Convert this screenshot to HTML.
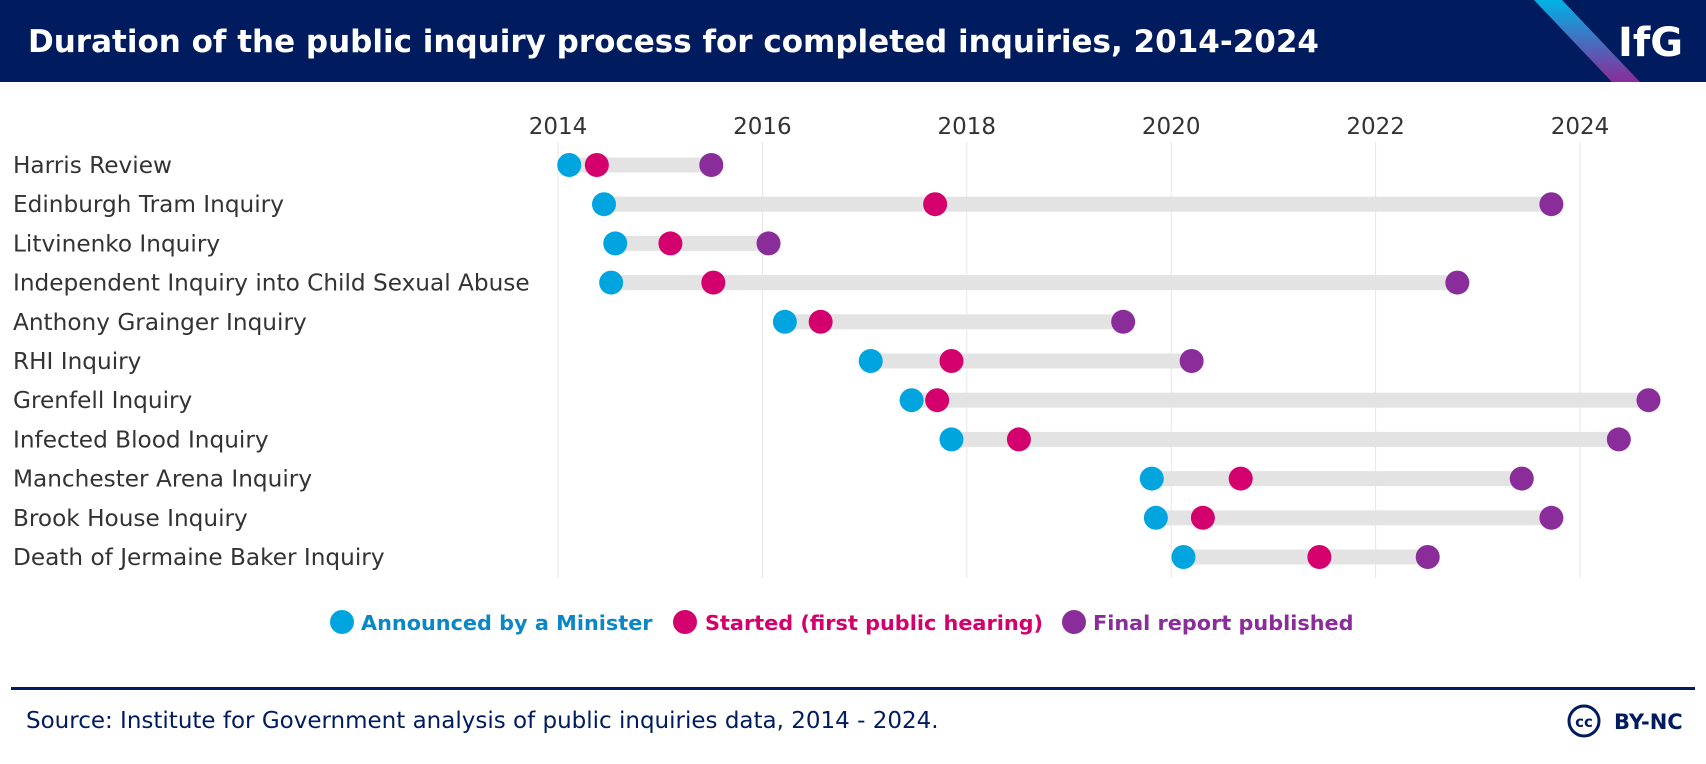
<!DOCTYPE html>
<html><head><meta charset="utf-8"><style>
body{margin:0;width:1706px;height:764px;background:#fff;font-family:"DejaVu Sans","Liberation Sans",sans-serif;overflow:hidden;position:relative}
</style></head><body>
<svg width="1706" height="764" style="position:absolute;left:0;top:0;font-family:'DejaVu Sans','Liberation Sans',sans-serif">
<defs><linearGradient id="g" x1="0" y1="0" x2="0" y2="1"><stop offset="0" stop-color="#00b2e6"/><stop offset="1" stop-color="#8a2c9a"/></linearGradient></defs>
<rect x="0" y="0" width="1706" height="82" fill="#001c5e"/>
<polygon points="1534,0 1562,0 1640,82 1612,82" fill="url(#g)"/>
<text x="28" y="52" fill="#fff" font-size="31" font-weight="bold">Duration of the public inquiry process for completed inquiries, 2014-2024</text>
<text x="1618" y="56" fill="#fff" font-size="40" font-weight="bold">IfG</text>
<g id="plot"></g>
<g font-size="20.8" font-weight="bold">
<circle cx="342" cy="622" r="12" fill="#00a5e0"/><text x="361" y="630" fill="#0a87c4">Announced by a Minister</text>
<circle cx="685" cy="622" r="12" fill="#d4006d"/><text x="705" y="630" fill="#d4006d">Started (first public hearing)</text>
<circle cx="1074" cy="622" r="12" fill="#8a2c9a"/><text x="1093" y="630" fill="#8a2c9a">Final report published</text>
</g>
<rect x="11" y="687" width="1684" height="3" fill="#001c5e"/>
<text x="26" y="728" font-size="23" fill="#001c5e">Source: Institute for Government analysis of public inquiries data, 2014 - 2024.</text>
<circle cx="1584" cy="721" r="15" fill="none" stroke="#001c5e" stroke-width="3"/>
<text x="1584" y="727" font-size="15" font-weight="bold" fill="#001c5e" text-anchor="middle">cc</text>
<text x="1614" y="729" font-size="21" font-weight="bold" fill="#001c5e">BY-NC</text>
</svg>
<script>
const names=["Harris Review","Edinburgh Tram Inquiry","Litvinenko Inquiry","Independent Inquiry into Child Sexual Abuse","Anthony Grainger Inquiry","RHI Inquiry","Grenfell Inquiry","Infected Blood Inquiry","Manchester Arena Inquiry","Brook House Inquiry","Death of Jermaine Baker Inquiry"];
const announced=[2014.11,2014.45,2014.56,2014.52,2016.22,2017.06,2017.46,2017.85,2019.81,2019.85,2020.12];
const started=[2014.38,2017.69,2015.10,2015.52,2016.57,2017.85,2017.71,2018.51,2020.68,2020.31,2021.45];
const finalReport=[2015.50,2023.72,2016.06,2022.80,2019.53,2020.20,2024.67,2024.38,2023.43,2023.72,2022.51];
const ticks=[2014,2016,2018,2020,2022,2024];
const NS="http://www.w3.org/2000/svg";
const x=v=>558+(v-2014)*102.2;
const y=i=>165+i*39.2;
const g=document.getElementById('plot');
function mk(t,a,p){const e=document.createElementNS(NS,t);for(const k in a)e.setAttribute(k,a[k]);(p||g).appendChild(e);return e;}
ticks.forEach(t=>{
 const l=mk('line',{x1:x(t),x2:x(t),y1:142,y2:578,stroke:'#e6e6e6','stroke-width':1});
 
 
 const tx=mk('text',{x:x(t),y:134,'font-size':23,fill:'#333','text-anchor':'middle'});
 tx.textContent=t;
 
 
});
names.forEach((n,i)=>{
 const tx=mk('text',{x:13,y:y(i)+8,'font-size':23.2,fill:'#333'});
 tx.textContent=n;
 
 
 const lo=Math.min(announced[i],started[i],finalReport[i]),hi=Math.max(announced[i],started[i],finalReport[i]);
 const b=mk('rect',{x:x(lo),y:y(i)-7.5,width:x(hi)-x(lo),height:15,fill:'#e3e3e3'});
 
 
 [[announced,'#00a5e0','dot-announced'],[started,'#d4006d','dot-started'],[finalReport,'#8a2c9a','dot-final']].forEach(([arr,c,nm])=>{
  const d=mk('circle',{cx:x(arr[i]),cy:y(i),r:12,fill:c});
  
  
 });
});
</script>
</body></html>
